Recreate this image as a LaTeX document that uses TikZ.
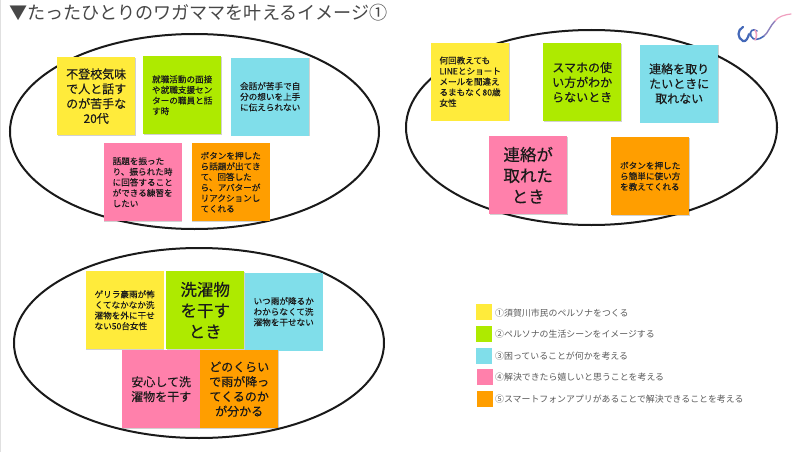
\documentclass[tikz,border=0pt]{standalone}
\usepackage{fontspec}
\usetikzlibrary{shadows}
\setmainfont{Noto Sans CJK JP}
\definecolor{ny}{HTML}{FFEB3B}
\definecolor{ng}{HTML}{AEEA00}
\definecolor{nb}{HTML}{80DEEA}
\definecolor{np}{HTML}{FF80AB}
\definecolor{no}{HTML}{FF9E00}
\definecolor{ink}{HTML}{1A1A1A}
\definecolor{legendink}{HTML}{5A5A5A}
\definecolor{logoblue}{HTML}{4468B8}
\definecolor{logopink}{HTML}{F0A0C0}
\newfontfamily\heavyfont[FakeBold=0.35]{Noto Sans CJK JP}
\newfontfamily\semifont[FakeBold=0.2]{Noto Sans CJK JP}
\tikzset{x=1pt,y=-1pt,
 blob/.style={draw=ink,line width=2pt,fill=white},
 sticky/.style={anchor=north west,minimum width=78pt,minimum height=78pt,inner sep=0pt,text=ink,
   drop shadow={shadow xshift=0.5pt,shadow yshift=-0.7pt,opacity=.18,fill=black}},
 bigtxt/.style={align=center,font=\heavyfont\fontsize{16.5}{21}\selectfont},
 midtxt/.style={align=center,font=\heavyfont\fontsize{12}{14.8}\selectfont},
 smalltxt/.style={align=left,font=\semifont\fontsize{8.6}{10.6}\selectfont},
 swatch/.style={anchor=north west,minimum width=16pt,minimum height=16pt,inner sep=0pt},
 legendtext/.style={anchor=west,inner sep=0pt,text=legendink,font=\fontsize{8.9}{10}\selectfont},
}
\begin{document}
\begin{tikzpicture}
\useasboundingbox (0,0) rectangle (800,452);
\fill[white] (0,0) rectangle (800,452);
\draw[black!12,line width=1pt] (0.5,0) -- (0.5,452);
\node[anchor=west,inner sep=0pt,text=black!72,font=\fontsize{18.1}{22}\selectfont] (title) at (9,13) {▼たったひとりのワガママを叶えるイメージ①};
% ellipses
\draw[blob] (194.5,131.5) ellipse [x radius=184.5pt,y radius=97.5pt];
\draw[blob] (591.5,127.5) ellipse [x radius=185.5pt,y radius=97.5pt];
\draw[blob] (199,343) ellipse [x radius=185pt,y radius=95pt];
% panel 1
\node[sticky,fill=ny,midtxt] (a1) at (57,57) {不登校気味\\で人と話す\\のが苦手な\\20代};
\node[sticky,fill=ng,smalltxt] (a2) at (143,56) {就職活動の面接\\や就職支援セン\\ターの職員と話\\す時};
\node[sticky,fill=nb,smalltxt] (a3) at (231,57.5) {会話が苦手で自\\分の想いを上手\\に伝えられない};
\node[sticky,fill=np,smalltxt] (a4) at (103.5,143) {話題を振った\\り、振られた時\\に回答すること\\ができる練習を\\したい};
\node[sticky,fill=no,smalltxt] (a5) at (191.5,143) {ボタンを押した\\ら話題が出てき\\て、回答した\\ら、アバターが\\リアクションし\\てくれる};
% panel 2
\node[sticky,fill=ny,smalltxt] (b1) at (431,42.5) {何回教えても\\LINEとショート\\メールを間違え\\るまもなく80歳\\女性};
\node[sticky,fill=ng,midtxt] (b2) at (543,43) {スマホの使\\い方がわか\\らないとき};
\node[sticky,fill=nb,midtxt] (b3) at (640,44.5) {連絡を取り\\たいときに\\取れない};
\node[sticky,fill=np,bigtxt] (b4) at (489,136) {連絡が\\取れた\\とき};
\node[sticky,fill=no,smalltxt] (b5) at (611,137) {ボタンを押した\\ら簡単に使い方\\を教えてくれる};
% panel 3
\node[sticky,fill=ny,smalltxt] (c1) at (85.5,271) {ゲリラ豪雨が怖\\くてなかなか洗\\濯物を外に干せ\\ない50台女性};
\node[sticky,fill=ng,bigtxt] (c2) at (166,271) {洗濯物\\を干す\\とき};
\node[sticky,fill=nb,smalltxt] (c3) at (244.5,272.5) {いつ雨が降るか\\わからなくて洗\\濯物を干せない};
\node[sticky,fill=np,midtxt] (c4) at (122,350) {安心して洗\\濯物を干す};
\node[sticky,fill=no,midtxt] (c5) at (200,350) {どのくらい\\で雨が降っ\\てくるのか\\が分かる};
% legend
\node[swatch,fill=ny] (s1) at (476,304) {};
\node[swatch,fill=ng] (s2) at (476,325.5) {};
\node[swatch,fill=nb] (s3) at (476,348) {};
\node[swatch,fill=np] (s4) at (476.5,369) {};
\node[swatch,fill=no] (s5) at (477,391) {};
\node[legendtext] (l1) at (495,313) {①須賀川市民のペルソナをつくる};
\node[legendtext] (l2) at (495,334.5) {②ペルソナの生活シーンをイメージする};
\node[legendtext] (l3) at (495,356) {③困っていることが何かを考える};
\node[legendtext] (l4) at (495,377.5) {④解決できたら嬉しいと思うことを考える};
\node[legendtext] (l5) at (495,399) {⑤スマートフォンアプリがあることで解決できることを考える};
% logo
\draw[logoblue,line width=2.2pt,line cap=round] (743,27) .. controls (737,30) and (737,38) .. (743,41) .. controls (746,42) and (748,38) .. (749,34);
\draw[logoblue,line width=1.6pt,line cap=round] (757,31) .. controls (753,28) and (749,31) .. (751,36) .. controls (753,41) and (759,40) .. (764,36);
\draw[logopink,line width=1.6pt,line cap=round] (755,30) .. controls (757,33) and (757,37) .. (755,40);
\draw[logoblue!60!logopink,line width=1.4pt,line cap=round] (764,36) .. controls (768,33) and (770,26) .. (775,21);
\draw[logopink,line width=1.2pt,line cap=round] (775,21) .. controls (778,17) and (783,15) .. (791,14);
\end{tikzpicture}
\end{document}
